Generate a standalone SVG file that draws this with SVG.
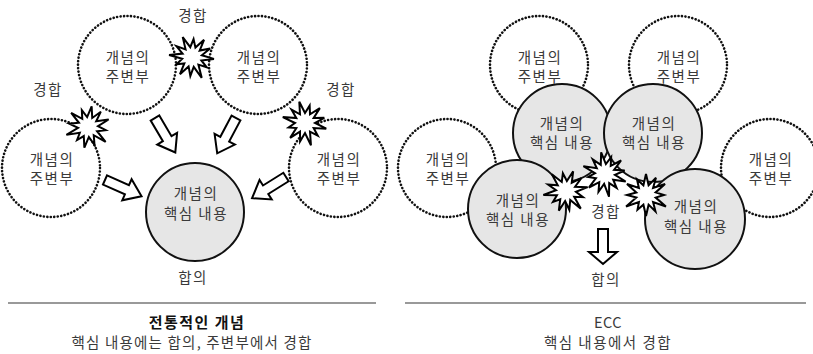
<svg xmlns="http://www.w3.org/2000/svg" xmlns:xlink="http://www.w3.org/1999/xlink" width="813" height="354" viewBox="0 0 813 354">
<style>
.t{font-family:"Noto Sans CJK KR","Noto Sans",sans-serif;font-size:14.5px;fill:#3a3a3a;text-anchor:middle;letter-spacing:1.5px}
.b{font-weight:bold;fill:#111;font-size:15px}
.dot{fill:#fff;stroke:#111;stroke-width:2.6;stroke-dasharray:0.1 3.4;stroke-linecap:round}
.core{fill:#e6e6e6;stroke:#111;stroke-width:2}
.star{fill:#fff;stroke:#000;stroke-width:2;stroke-linejoin:miter}
.arr{fill:#fff;stroke:#000;stroke-width:2;stroke-linejoin:miter}
.rule{stroke:#777;stroke-width:1.5}
</style>
<defs>
<path id="burst" d="M22,0 L9.66,2.59 L15.6,9 L7.07,7.07 L11.5,19.9 L2.59,9.66 L0,19 L-2.59,9.66 L-10.5,18.2 L-7.07,7.07 L-14.7,8.5 L-9.66,2.59 L-23,0 L-9.66,-2.59 L-16.5,-9.5 L-7.07,-7.07 L-11,-19 L-2.59,-9.66 L0,-18 L2.59,-9.66 L10.5,-18.2 L7.07,-7.07 L17.3,-10 L9.66,-2.59 Z"/>
<path id="blk" d="M0,-5 L24,-5 L24,-11.5 L40,0 L24,11.5 L24,5 L0,5 Z"/>
</defs>
<rect width="813" height="354" fill="#fff"/>

<!-- LEFT: traditional concept -->
<g id="L-periph-tl"><circle class="dot" cx="127" cy="65" r="49"/><text class="t" x="128" y="63">개념의</text><text class="t" x="128" y="82">주변부</text></g>
<g id="L-periph-tr"><circle class="dot" cx="258" cy="65" r="49"/><text class="t" x="259" y="63">개념의</text><text class="t" x="259" y="82">주변부</text></g>
<g id="L-periph-l"><circle class="dot" cx="51" cy="168" r="49"/><text class="t" x="52" y="165">개념의</text><text class="t" x="52" y="184">주변부</text></g>
<g id="L-periph-r"><circle class="dot" cx="338" cy="168" r="49"/><text class="t" x="339" y="165">개념의</text><text class="t" x="339" y="184">주변부</text></g>
<g id="L-core"><circle class="core" cx="195" cy="212" r="49"/><text class="t" x="196" y="199">개념의</text><text class="t" x="196" y="219">핵심 내용</text></g>

<g id="L-connectors">
<use xlink:href="#blk" class="arr" transform="translate(155,118) rotate(59.5)"/>
<use xlink:href="#blk" class="arr" transform="translate(236,118) rotate(118)"/>
<use xlink:href="#blk" class="arr" transform="translate(105,180) rotate(24)"/>
<use xlink:href="#blk" class="arr" transform="translate(286,177) rotate(148)"/>
<use xlink:href="#burst" class="star" transform="translate(192,57) rotate(5)"/>
<use xlink:href="#burst" class="star" transform="translate(88,127) rotate(-20)"/>
<use xlink:href="#burst" class="star" transform="translate(305,123) rotate(15)"/>
</g>

<g id="L-labels">
<text class="t" x="193" y="21">경합</text>
<text class="t" x="48" y="95">경합</text>
<text class="t" x="341" y="95">경합</text>
<text class="t" x="193" y="283">합의</text>
</g>

<!-- RIGHT: ECC -->
<g id="R-periph-tl"><circle class="dot" cx="539" cy="65" r="49"/><text class="t" x="540" y="63">개념의</text><text class="t" x="540" y="82">주변부</text></g>
<g id="R-periph-tr"><circle class="dot" cx="678" cy="65" r="49"/><text class="t" x="679" y="63">개념의</text><text class="t" x="679" y="82">주변부</text></g>
<g id="R-periph-l"><circle class="dot" cx="447" cy="168" r="49"/><text class="t" x="448" y="165">개념의</text><text class="t" x="448" y="184">주변부</text></g>
<g id="R-periph-r"><circle class="dot" cx="770" cy="168" r="49"/><text class="t" x="771" y="165">개념의</text><text class="t" x="771" y="184">주변부</text></g>
<g id="R-core-tl"><circle class="core" cx="562" cy="133" r="49"/><text class="t" x="562" y="129">개념의</text><text class="t" x="562" y="148">핵심 내용</text></g>
<g id="R-core-tr"><circle class="core" cx="653" cy="133" r="49"/><text class="t" x="654" y="129">개념의</text><text class="t" x="654" y="148">핵심 내용</text></g>
<g id="R-core-bl"><circle class="core" cx="517" cy="209" r="49"/><text class="t" x="518" y="206">개념의</text><text class="t" x="518" y="225">핵심 내용</text></g>
<g id="R-core-br"><circle class="core" cx="695" cy="219" r="50"/><text class="t" x="696" y="212">개념의</text><text class="t" x="696" y="232">핵심 내용</text></g>

<g id="R-connectors">
<use xlink:href="#burst" class="star" transform="translate(566,191) rotate(-10)"/>
<use xlink:href="#burst" class="star" transform="translate(605,174) rotate(20)"/>
<use xlink:href="#burst" class="star" transform="translate(646,195) rotate(-30)"/>
<path class="arr" d="M598,229 H608 V252 H617 L603,264 L589,252 H598 Z"/>
</g>

<g id="R-labels">
<text class="t" x="606" y="217">경합</text>
<text class="t" x="606" y="285">합의</text>
</g>

<!-- captions -->
<g id="captions">
<line class="rule" x1="8" y1="303" x2="376" y2="303"/>
<line class="rule" x1="405" y1="303" x2="806" y2="303"/>
<text class="t b" x="197" y="328">전통적인 개념</text>
<text class="t" x="192" y="348" style="letter-spacing:1.2px">핵심 내용에는 합의, 주변부에서 경합</text>
<text class="t" x="608" y="328" style="letter-spacing:0.5px">ECC</text>
<text class="t" x="608" y="348">핵심 내용에서 경합</text>
</g>
</svg>
